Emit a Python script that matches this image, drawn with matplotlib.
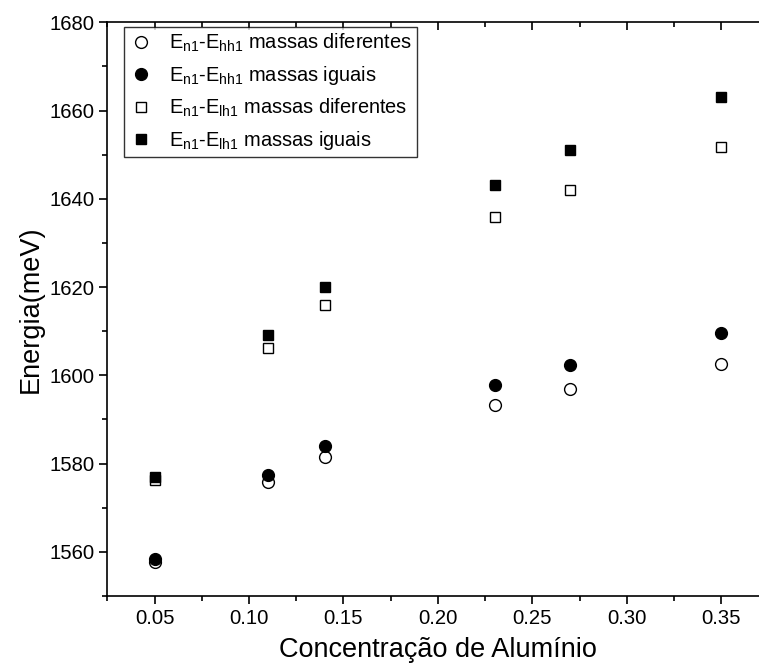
import numpy as np
import matplotlib
matplotlib.use("Agg")
import matplotlib.pyplot as plt
from matplotlib.ticker import MultipleLocator, FormatStrFormatter

plt.rcParams['font.family'] = ['Liberation Sans', 'DejaVu Sans']
plt.rcParams['mathtext.fontset'] = 'custom'
plt.rcParams['mathtext.rm'] = 'Liberation Sans'

# concentracao de aluminio
x = [0.05, 0.11, 0.14, 0.23, 0.27, 0.35]

# energias (meV)
hh_diferentes = [1557.8, 1575.9, 1581.6, 1593.2, 1596.9, 1602.6]
hh_iguais = [1558.3, 1577.5, 1583.9, 1597.7, 1602.3, 1609.5]
lh_diferentes = [1576.3, 1606.3, 1616.0, 1635.8, 1642.1, 1651.7]
lh_iguais = [1577.0, 1609.2, 1620.1, 1643.2, 1651.0, 1663.1]

labels = [r"E$_{\mathregular{n1}}$-E$_{\mathregular{hh1}}$ massas diferentes",
          r"E$_{\mathregular{n1}}$-E$_{\mathregular{hh1}}$ massas iguais",
          r"E$_{\mathregular{n1}}$-E$_{\mathregular{lh1}}$ massas diferentes",
          r"E$_{\mathregular{n1}}$-E$_{\mathregular{lh1}}$ massas iguais"]

fig = plt.figure(figsize=(7.59, 6.71), dpi=100)
ax = fig.add_axes([0.1414, 0.1118, 0.871, 0.855])

ax.plot(x, hh_diferentes, 'o', ms=8.5, mfc='white', mec='black', mew=1.0, label=labels[0])
ax.plot(x, hh_iguais, 'o', ms=8.5, mfc='black', mec='black', mew=1.0, label=labels[1])
ax.plot(x, lh_diferentes, 's', ms=7.3, mfc='white', mec='black', mew=1.0, label=labels[2])
ax.plot(x, lh_iguais, 's', ms=7.3, mfc='black', mec='black', mew=1.0, label=labels[3])

ax.set_xlim(0.025, 0.375)
ax.set_ylim(1550, 1680)

ax.xaxis.set_major_locator(MultipleLocator(0.05))
ax.xaxis.set_minor_locator(MultipleLocator(0.025))
ax.xaxis.set_major_formatter(FormatStrFormatter('%.2f'))
ax.yaxis.set_major_locator(MultipleLocator(20))
ax.yaxis.set_minor_locator(MultipleLocator(10))

ax.tick_params(which='both', direction='out', width=1.2, labelsize=14.6,
               top=False, right=False)
ax.tick_params(which='major', length=6)
ax.tick_params(which='minor', length=3.5)
ax.tick_params(axis='x', which='both', top=True, labeltop=False)

for s in ax.spines.values():
    s.set_linewidth(1.2)

# top ticks go inward
for t in ax.xaxis.get_major_ticks() + ax.xaxis.get_minor_ticks():
    t.tick2line.set_marker(3)

ax.set_xlabel("Concentração de Alumínio", fontsize=19.5, labelpad=6)
ax.set_ylabel("Energia(meV)", fontsize=19.5, labelpad=4)

leg = ax.legend(loc='upper left', bbox_to_anchor=(0.025, 0.992), borderaxespad=0,
                fontsize=14.4, frameon=True, fancybox=False, edgecolor='black',
                handletextpad=0.8, labelspacing=0.5, borderpad=0.25, handlelength=1.2)
leg.get_frame().set_linewidth(1.0)

fig.savefig("out.png", dpi=100)
